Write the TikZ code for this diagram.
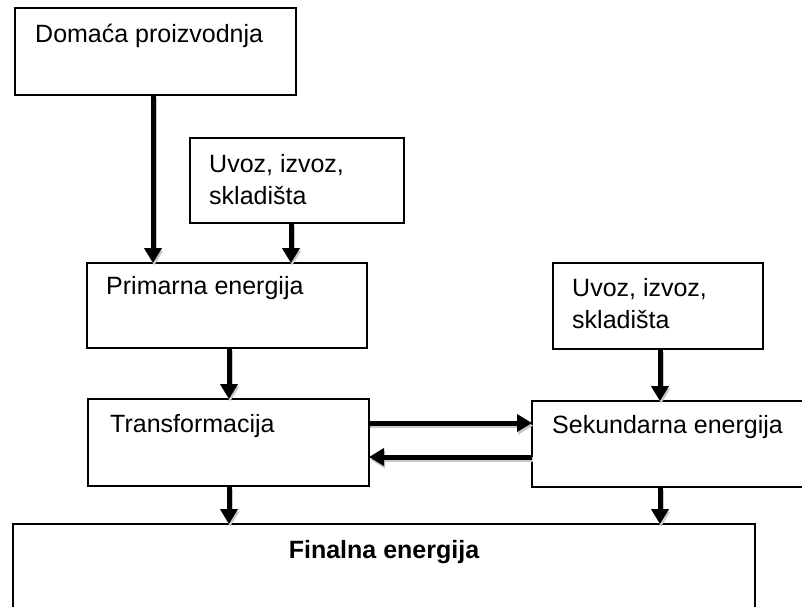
\documentclass[tikz,border=0pt]{standalone}
\usepackage{fontspec}
\setmainfont{Liberation Sans}
\usetikzlibrary{arrows.meta}
\begin{document}
\begin{tikzpicture}[x=1pt,y=-1pt,
  frame/.style={draw=black, line width=1.3pt},
  box/.style={frame, fill=white, rectangle, inner sep=0pt, outer sep=0pt, anchor=north west},
  lbl/.style={anchor=base west, inner sep=0pt, font=\fontsize{25}{32}\selectfont},
  flow/.style={line width=5pt, -{Triangle[length=15pt,width=17pt]},
    preaction={draw=black!22, line width=5pt, transform canvas={xshift=1.2pt,yshift=-2.6pt}}}
]
\useasboundingbox (0,0) rectangle (802,606);
\clip (0,0) rectangle (802,606);

% boxes
\node[box, minimum width=281pt, minimum height=87pt] (dom)   at (15,8)   {};
\node[box, minimum width=214pt, minimum height=85pt] (uv1)   at (190,138) {};
\node[box, minimum width=280pt, minimum height=85pt] (prim)  at (87,263)  {};
\node[box, minimum width=210pt, minimum height=86pt] (uv2)   at (553,263) {};
\node[box, minimum width=281pt, minimum height=87pt] (trans) at (88,399)  {};
% this box runs past the right margin, so only three sides are drawn
\node[box, draw=none, minimum width=300pt, minimum height=86pt] (sek) at (532,401) {};
\draw[frame] (sek.north east) -- (sek.north west) -- (sek.south west) -- (sek.south east);
\node[box, minimum width=742pt, minimum height=100pt] (fin)  at (13,524)  {};

% labels
\node[lbl] (tdom)   at (35,42)   {Domaća proizvodnja};
\node[lbl] (tuv1)   at (209,172) {\begin{tabular}[t]{@{}l@{}}Uvoz, izvoz,\\ skladišta\end{tabular}};
\node[lbl] (tprim)  at (106,294) {Primarna energija};
\node[lbl] (tuv2)   at (572,296) {\begin{tabular}[t]{@{}l@{}}Uvoz, izvoz,\\ skladišta\end{tabular}};
\node[lbl] (ttrans) at (110,432) {Transformacija};
\node[lbl] (tsek)   at (552,433) {Sekundarna energija};
\node[lbl, anchor=base] (tfin) at (384,558) {\bfseries Finalna energija};

% columns and rows of the connectors
\coordinate (c1) at (153,0);
\coordinate (c2) at (291,0);
\coordinate (c3) at (229,0);
\coordinate (c4) at (660,0);
\coordinate (r1) at (0,423);
\coordinate (r2) at (0,457);

% connectors
\draw[flow] (dom.south -| c1)   -- (prim.north -| c1);
\draw[flow] (uv1.south -| c2)   -- (prim.north -| c2);
\draw[flow] (prim.south -| c3)  -- (trans.north -| c3);
\draw[flow] (trans.south -| c3) -- (fin.north -| c3);
\draw[flow] (uv2.south -| c4)   -- (sek.north -| c4);
\draw[flow] (sek.south -| c4)   -- (fin.north -| c4);
\draw[flow] (trans.east |- r1)  -- (sek.west |- r1);
\draw[flow] (sek.west |- r2)    -- (trans.east |- r2);
\end{tikzpicture}
\end{document}
